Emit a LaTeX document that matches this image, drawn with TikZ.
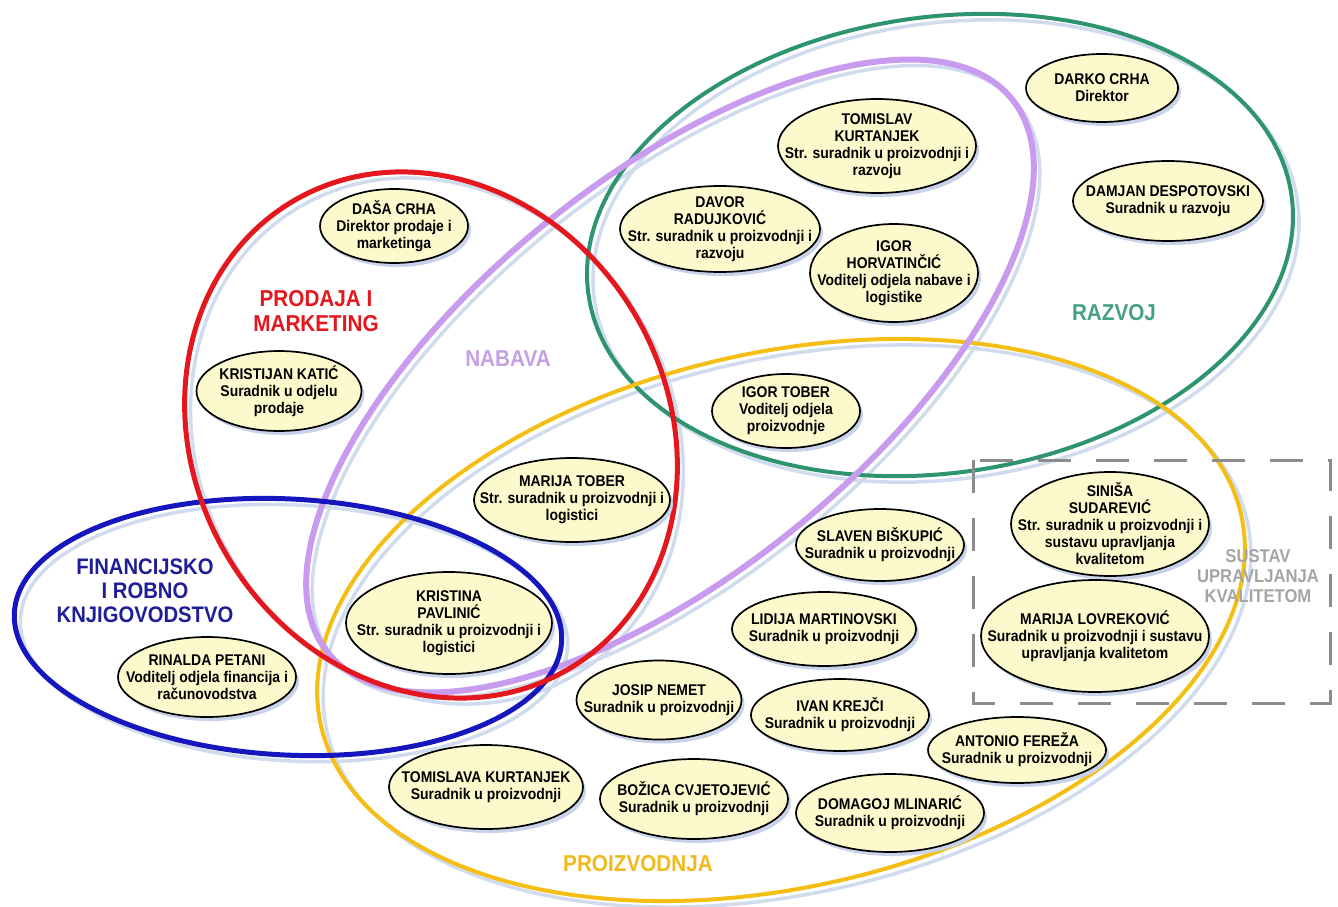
\documentclass[tikz,border=0pt]{standalone}
\usepackage{fontspec}
\setmainfont{Liberation Sans}[FakeStretch=0.9]
\usetikzlibrary{shapes.geometric,shadows}
\definecolor{cRed}{RGB}{228,22,30}
\definecolor{cBlue}{RGB}{22,22,190}
\definecolor{cBlueT}{RGB}{30,30,150}
\definecolor{cPurple}{RGB}{200,155,238}
\definecolor{cPurpleT}{RGB}{196,160,228}
\definecolor{cGreen}{RGB}{45,148,110}
\definecolor{cGreenT}{RGB}{70,160,130}
\definecolor{cYellow}{RGB}{244,190,20}
\definecolor{cYellowT}{RGB}{240,186,30}
\definecolor{cGray}{RGB}{140,140,140}
\definecolor{cGrayT}{RGB}{165,165,165}
\definecolor{nodefill}{RGB}{252,250,205}
\definecolor{nodeshadow}{RGB}{200,210,232}
\definecolor{ringshadow}{RGB}{208,220,238}
\tikzset{
  person/.style={ellipse, draw=black, line width=1.7pt, fill=nodefill, inner sep=0pt,
    drop shadow={shadow xshift=3pt, shadow yshift=-4pt, fill=nodeshadow, opacity=1}},
  ptext/.style={align=center, font=\fontsize{15.5}{17}\selectfont\bfseries, inner sep=0pt},
  grp/.style={align=center, font=\fontsize{23}{25}\selectfont\bfseries, inner sep=0pt},
  ring/.style={line width=#1},
  ringshade/.style={draw=ringshadow, line width=3.5pt, shift={(6,6)}},
  dashbox/.style={draw=cGray, line width=3pt, dash pattern=on 33pt off 25pt}
}
\newcommand\pers[5]{%
  \node[person, minimum width=#3pt, minimum height=#4pt] (#1) at (#2) {};
  \node[ptext] (#1-t) at (#1.center) {#5};}
\begin{document}
\begin{tikzpicture}[x=1pt,y=-1pt]
\fill[white] (0,0) rectangle (1338,907);
\useasboundingbox (0,0) rectangle (1338,907);
% shadows of the group rings
\draw[ringshade, rotate around={8:(940,245)}] (940,245) ellipse [x radius=355, y radius=228];
\draw[ringshade, rotate around={13:(781,620)}] (781,620) ellipse [x radius=472, y radius=267];
\draw[ringshade, rotate around={39:(670,376)}] (670,376) ellipse [x radius=440, y radius=197];
\draw[ringshade, rotate around={-3:(288,627)}] (288,627) ellipse [x radius=274, y radius=128];
\draw[ringshade, rotate around={30.5:(431,435)}] (431,435) ellipse [x radius=237, y radius=271.5];
% group rings
\draw[draw=cGreen, ring=4pt, rotate around={8:(940,245)}] (940,245) ellipse [x radius=355, y radius=228];
\draw[draw=cYellow, ring=4pt, rotate around={13:(781,620)}] (781,620) ellipse [x radius=472, y radius=267];
\draw[draw=cPurple, ring=6pt, rotate around={39:(670,376)}] (670,376) ellipse [x radius=440, y radius=197];
\draw[draw=cBlue, ring=5pt, rotate around={-3:(288,627)}] (288,627) ellipse [x radius=274, y radius=128];
\draw[draw=cRed, ring=5pt, rotate around={30.5:(431,435)}] (431,435) ellipse [x radius=237, y radius=271.5];
% quality system box
\draw[dashbox] (973,460) rectangle (1330,703);
% people
\pers{dasa}{394,226}{148}{74}{DAŠA CRHA\\Direktor prodaje i\\marketinga}
\pers{kristijan}{279,391}{165}{80}{KRISTIJAN KATIĆ\\Suradnik u odjelu\\prodaje}
\pers{tomislav}{877,146}{198}{94}{TOMISLAV\\KURTANJEK\\Str. suradnik u proizvodnji i\\razvoju}
\pers{darko}{1102,88}{152}{68}{DARKO CRHA\\Direktor}
\pers{damjan}{1168,201}{190}{80}{DAMJAN DESPOTOVSKI\\Suradnik u razvoju}
\pers{davor}{720,229}{200}{86}{DAVOR\\RADUJKOVIĆ\\Str. suradnik u proizvodnji i\\razvoju}
\pers{igorh}{894,273}{168}{98}{IGOR\\HORVATINČIĆ\\Voditelj odjela nabave i\\logistike}
\pers{igort}{786,411}{148}{74}{IGOR TOBER\\Voditelj odjela\\proizvodnje}
\pers{marijat}{572,500}{196}{84}{MARIJA TOBER\\Str. suradnik u proizvodnji i\\logistici}
\pers{kristina}{449,623}{206}{102}{KRISTINA\\PAVLINIĆ\\Str. suradnik u proizvodnji i\\logistici}
\pers{rinalda}{207,677}{178}{80}{RINALDA PETANI\\Voditelj odjela financija i\\računovodstva}
\pers{slaven}{880,545}{168}{72}{SLAVEN BIŠKUPIĆ\\Suradnik u proizvodnji}
\pers{lidija}{824,629}{184}{74}{LIDIJA MARTINOVSKI\\Suradnik u proizvodnji}
\pers{josip}{659,700}{165}{79}{JOSIP NEMET\\Suradnik u proizvodnji}
\pers{ivan}{840,715}{178}{72}{IVAN KREJČI\\Suradnik u proizvodnji}
\pers{antonio}{1017,750}{178}{66}{ANTONIO FEREŽA\\Suradnik u proizvodnji}
\pers{tomislava}{486,787}{194}{84}{TOMISLAVA KURTANJEK\\Suradnik u proizvodnji}
\pers{bozica}{694,799}{188}{80}{BOŽICA CVJETOJEVIĆ\\Suradnik u proizvodnji}
\pers{domagoj}{890,813}{188}{78}{DOMAGOJ MLINARIĆ\\Suradnik u proizvodnji}
\pers{sinisa}{1110,524}{198}{104}{SINIŠA\\SUDAREVIĆ\\Str. suradnik u proizvodnji i\\sustavu upravljanja\\kvalitetom}
\pers{marijal}{1095,636}{228}{112}{MARIJA LOVREKOVIĆ\\Suradnik u proizvodnji i sustavu\\upravljanja kvalitetom}
% group labels
\node[grp, text=cRed] (lprodaja) at (316,311) {PRODAJA I\\MARKETING};
\node[grp, text=cPurpleT] (lnabava) at (508,359) {NABAVA};
\node[grp, text=cGreenT] (lrazvoj) at (1114,313) {RAZVOJ};
\node[grp, text=cBlueT, font=\fontsize{22.5}{24}\selectfont\bfseries] (lfin) at (145,591) {FINANCIJSKO\\I ROBNO\\KNJIGOVODSTVO};
\node[grp, text=cYellowT] (lproiz) at (638,864) {PROIZVODNJA};
\node[grp, text=cGrayT, font=\fontsize{18.5}{20}\selectfont\bfseries] (lsustav) at (1258,576) {SUSTAV\\UPRAVLJANJA\\KVALITETOM};
\end{tikzpicture}
\end{document}
